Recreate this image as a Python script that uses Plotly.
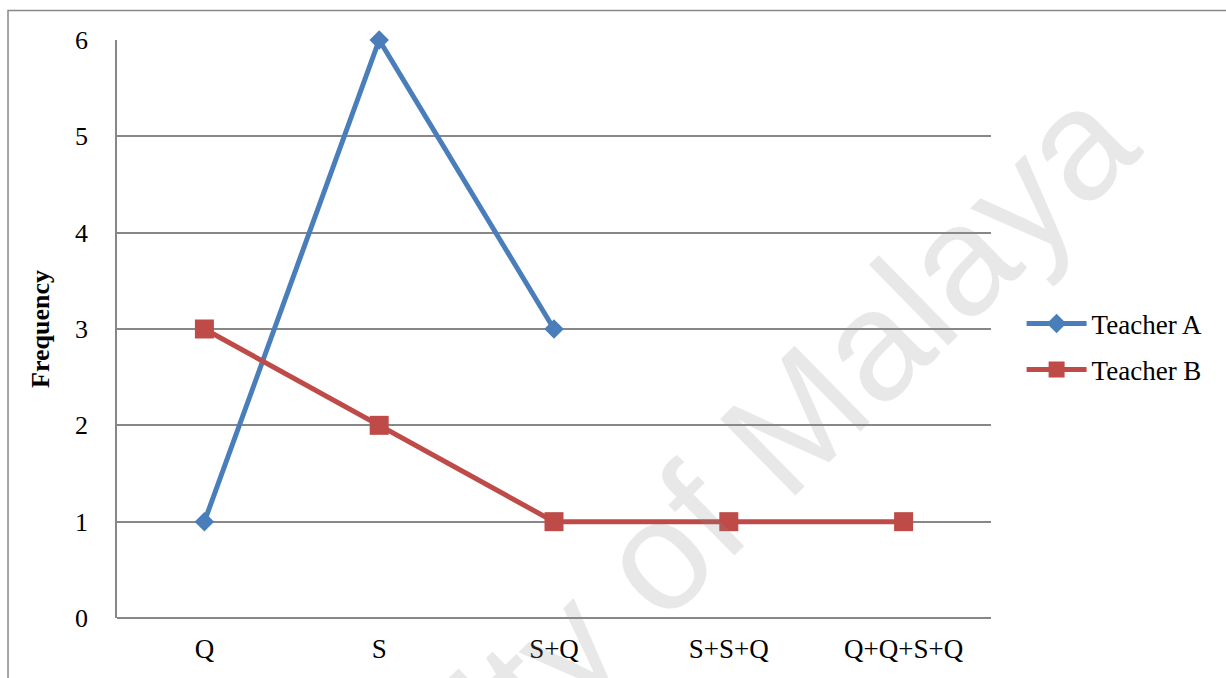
import plotly.graph_objects as go

categories = ["Q", "S", "S+Q", "S+S+Q", "Q+Q+S+Q"]
teacher_a = [1, 6, 3, None, None]
teacher_b = [3, 2, 1, 1, 1]
y_ticks = [0, 1, 2, 3, 4, 5, 6]

serif = "Liberation Serif, Times New Roman, serif"
grid = "#878787"

fig = go.Figure()
fig.add_trace(go.Scatter(
    x=categories, y=teacher_a, name="Teacher A", mode="lines+markers",
    legendgroup="a", cliponaxis=False,
    line=dict(color="#4a7ebb", width=5),
    marker=dict(symbol="diamond", size=15, color="#4a7ebb"),
))
fig.add_trace(go.Scatter(
    x=categories, y=teacher_b, name="Teacher B", mode="lines+markers",
    legendgroup="b", cliponaxis=False,
    line=dict(color="#be4b48", width=5),
    marker=dict(symbol="square", size=19, color="#be4b48"),
))

# outer frame of the chart
fig.add_shape(type="rect", xref="paper", yref="paper",
              x0=-0.1247, x1=1.4, y0=-0.3, y1=1.051,
              line=dict(color="#888888", width=1.5), layer="below")

# watermark
fig.add_annotation(
    text="University of Malaya", xref="paper", yref="paper",
    x=0.5595, y=0.021, xanchor="center", yanchor="middle",
    showarrow=False, textangle=-44.5,
    font=dict(family="Liberation Sans, Arial, sans-serif", size=156,
              color="rgba(140,140,140,0.2)"),
)

fig.update_layout(
    width=1226, height=678,
    margin=dict(l=117, r=235, t=40, b=60),
    paper_bgcolor="white", plot_bgcolor="white",
    font=dict(family=serif, size=26, color="black"),
    xaxis=dict(
        type="category", categoryorder="array", categoryarray=categories,
        range=[-0.5, 4.5], showgrid=False, showline=False, zeroline=False,
        ticks="", tickfont=dict(size=27, family=serif), ticklabelstandoff=12,
    ),
    yaxis=dict(
        range=[0, 6], tickvals=y_ticks, showgrid=True, gridcolor=grid,
        gridwidth=1.8, showline=True, linecolor=grid, linewidth=1.8,
        zeroline=True, zerolinecolor=grid, zerolinewidth=1.8,
        ticks="", tickfont=dict(size=26, family=serif), ticklabelstandoff=22,
        title=dict(text="<b>Frequency</b>", font=dict(size=26, family=serif),
                   standoff=18),
    ),
    legend=dict(
        x=1.035, y=0.469, xanchor="left", yanchor="middle",
        font=dict(size=27, family=serif), itemwidth=60,
        traceorder="grouped", tracegroupgap=8, bgcolor="rgba(0,0,0,0)",
    ),
)

fig.write_html("out.html")
